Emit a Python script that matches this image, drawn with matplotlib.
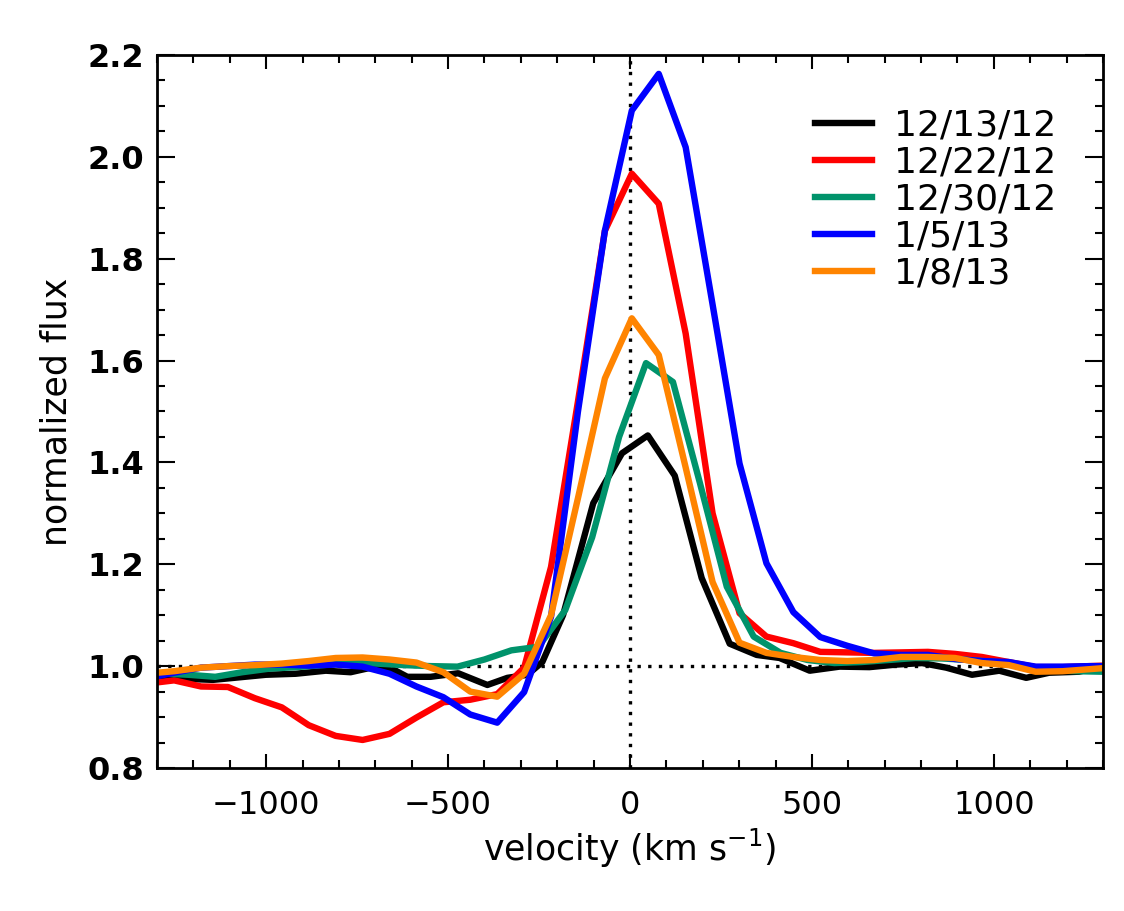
"""
plot.py
Normalized line profiles at several epochs, IDL-like look.
"""

import matplotlib
matplotlib.use("Agg")
from matplotlib import pyplot as plt
from matplotlib.ticker import MultipleLocator

# Data
vel_121312 = [-1300, -1146, -1001, -919, -836, -768, -718, -644, -612, -548, -472,
              -392, -337, -282, -241, -184, -101, -22, 49, 123, 197, 274, 348, 411,
              494, 576, 658, 732, 803, 869, 940, 1015, 1089, 1152, 1234, 1300]
flux_121312 = [0.977, 0.973, 0.983, 0.985, 0.991, 0.988, 0.996, 0.991, 0.979, 0.979, 0.986,
               0.963, 0.977, 0.983, 1.008, 1.100, 1.320, 1.418, 1.453, 1.374, 1.173, 1.044,
               1.022, 1.016, 0.991, 0.999, 0.998, 1.003, 1.006, 0.997, 0.983, 0.991, 0.977,
               0.987, 0.989, 1.000]

vel_122212 = [-1300, -1253, -1179, -1105, -1031, -957, -883, -809, -735, -661, -587,
              -513, -439, -365, -291, -217, -143, -69, 5, 79, 153, 227, 301, 375, 449,
              523, 597, 671, 745, 819, 893, 967, 1041, 1115, 1189, 1263, 1300]
flux_122212 = [0.968, 0.972, 0.960, 0.959, 0.937, 0.919, 0.884, 0.863, 0.855, 0.867, 0.899,
               0.929, 0.934, 0.945, 0.997, 1.195, 1.520, 1.855, 1.967, 1.908, 1.653, 1.300,
               1.104, 1.058, 1.045, 1.028, 1.027, 1.026, 1.027, 1.028, 1.024, 1.018, 1.008,
               0.998, 0.998, 1.000, 1.001]

vel_123012 = [-1300, -1214, -1140, -1066, -992, -918, -844, -770, -696, -622, -548,
              -474, -400, -326, -252, -178, -104, -30, 44, 118, 192, 266, 340, 414, 488,
              562, 636, 710, 784, 858, 932, 1006, 1080, 1154, 1228, 1300]
flux_123012 = [0.986, 0.983, 0.979, 0.988, 0.995, 0.998, 1.002, 1.006, 1.005, 1.002, 1.000,
               0.999, 1.013, 1.031, 1.038, 1.110, 1.253, 1.450, 1.595, 1.558, 1.360, 1.156,
               1.058, 1.026, 1.012, 1.006, 1.008, 1.012, 1.016, 1.015, 1.012, 1.008, 0.998,
               0.992, 0.990, 0.989]

vel_010513 = [-1300, -1253, -1179, -1105, -1031, -957, -883, -809, -735, -661, -587,
              -513, -439, -365, -291, -217, -143, -69, 5, 79, 153, 227, 301, 375, 449,
              523, 597, 671, 745, 819, 893, 967, 1041, 1115, 1189, 1263, 1300]
flux_010513 = [0.980, 0.987, 0.997, 1.000, 1.003, 1.003, 1.001, 1.003, 0.999, 0.985, 0.960,
               0.939, 0.905, 0.889, 0.949, 1.097, 1.500, 1.855, 2.091, 2.163, 2.019, 1.710,
               1.398, 1.202, 1.106, 1.057, 1.040, 1.025, 1.022, 1.022, 1.014, 1.010, 1.008,
               0.999, 0.999, 1.000, 1.000]

vel_010813 = [-1300, -1253, -1179, -1105, -1031, -957, -883, -809, -735, -661, -587,
              -513, -439, -365, -291, -217, -143, -69, 5, 79, 153, 227, 301, 375, 449,
              523, 597, 671, 745, 819, 893, 967, 1041, 1115, 1189, 1263, 1300]
flux_010813 = [0.987, 0.990, 0.997, 1.000, 1.002, 1.005, 1.010, 1.016, 1.017, 1.013, 1.007,
               0.988, 0.950, 0.940, 0.985, 1.100, 1.330, 1.565, 1.683, 1.611, 1.390, 1.165,
               1.046, 1.026, 1.018, 1.012, 1.010, 1.012, 1.018, 1.018, 1.016, 1.006, 1.002,
               0.989, 0.990, 0.994, 0.996]

dates = ["12/13/12", "12/22/12", "12/30/12", "1/5/13", "1/8/13"]
colors = ["black", "#ff0000", "#00936b", "#0000ff", "#ff8400"]

series = [
    (vel_121312, flux_121312),
    (vel_122212, flux_122212),
    (vel_123012, flux_123012),
    (vel_010513, flux_010513),
    (vel_010813, flux_010813),
]

plt.rcParams["font.family"] = ["DejaVu Sans"]

fig = plt.figure(figsize=(11.24, 9.11), dpi=100)
ax = fig.add_axes([0.1397, 0.157, 0.8416, 0.7826])

# Zero-velocity and continuum guides
ax.axhline(1.0, color="black", lw=2.4, ls=(0, (1, 2.2)), zorder=1)
ax.axvline(0.0, color="black", lw=2.4, ls=(0, (1, 2.2)), zorder=1)

for (vel, flux), color, label in zip(series, colors, dates):
    ax.plot(vel, flux, color=color, lw=4.6, label=label, zorder=2)

ax.set_xlim(-1300, 1300)
ax.set_ylim(0.8, 2.2)

ax.xaxis.set_major_locator(MultipleLocator(500))
ax.xaxis.set_minor_locator(MultipleLocator(100))
ax.yaxis.set_major_locator(MultipleLocator(0.2))
ax.yaxis.set_minor_locator(MultipleLocator(0.05))
ax.yaxis.set_major_formatter(plt.FormatStrFormatter("%.1f"))

ax.tick_params(which="both", direction="in", top=True, right=True, width=1.5)
ax.tick_params(axis="x", which="major", length=10, pad=16, labelsize=23)
ax.tick_params(axis="x", which="minor", length=6)
ax.tick_params(axis="y", which="major", length=13, pad=9, labelsize=23)
ax.tick_params(axis="y", which="minor", length=6)
for lab in ax.get_yticklabels():
    lab.set_fontweight("bold")

for spine in ax.spines.values():
    spine.set_linewidth(2)

ax.set_xlabel("velocity (km s$^{-1}$)", fontsize=25, labelpad=4)
ax.set_ylabel("normalized flux", fontsize=25, labelpad=10)

ax.legend(loc="upper left", bbox_to_anchor=(0.68, 0.945), frameon=False,
          fontsize=26, handlelength=1.6, handletextpad=0.6, labelspacing=0.08,
          borderaxespad=0.0)

fig.savefig("out.png", dpi=100)
